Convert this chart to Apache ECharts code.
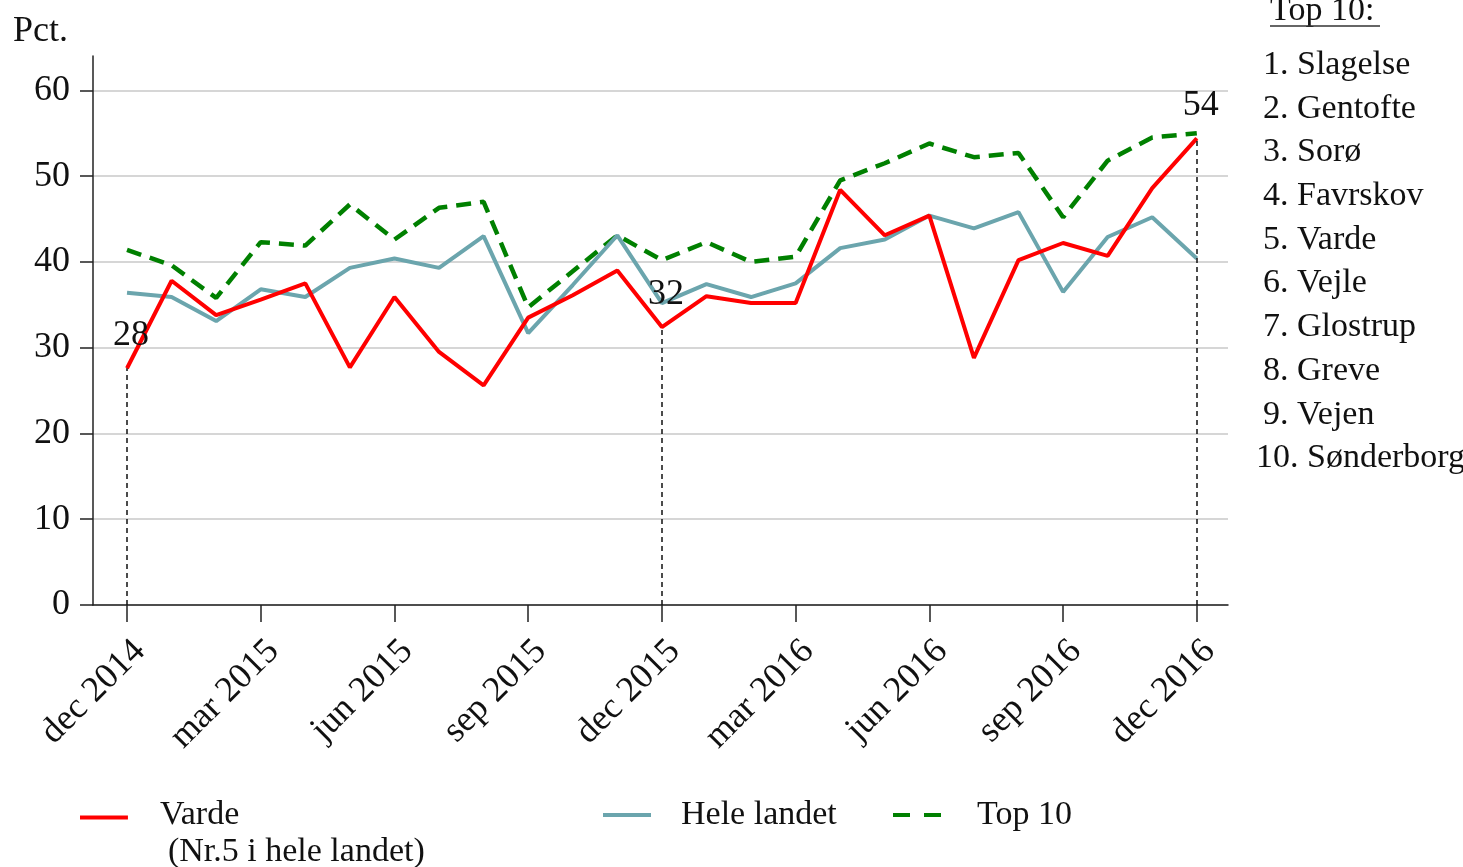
<!DOCTYPE html>
<html>
<head>
<meta charset="utf-8">
<script src="https://cdn.jsdelivr.net/npm/echarts@6/dist/echarts.min.js"></script>
<style>
html,body{margin:0;padding:0;background:#fff;}
#chart{width:1463px;height:867px;}
</style>
</head>
<body>
<div id="chart"></div>
<script>
const months = ['dec 2014','jan 2015','feb 2015','mar 2015','apr 2015','maj 2015','jun 2015','jul 2015','aug 2015','sep 2015','okt 2015','nov 2015','dec 2015','jan 2016','feb 2016','mar 2016','apr 2016','maj 2016','jun 2016','jul 2016','aug 2016','sep 2016','okt 2016','nov 2016','dec 2016'];
const varde = [27.6,37.8,33.8,35.6,37.5,27.7,35.9,29.5,25.6,33.5,36.1,39.0,32.4,36.0,35.2,35.2,48.4,43.1,45.4,28.8,40.2,42.2,40.7,48.6,54.4];
const heleLandet = [36.4,35.9,33.1,36.8,35.9,39.3,40.4,39.3,43.0,31.7,37.3,43.1,35.2,37.4,35.9,37.5,41.6,42.6,45.4,43.9,45.8,36.5,42.9,45.2,40.4];
const top10 = [41.4,39.6,35.8,42.3,41.9,46.7,42.6,46.3,47.0,34.7,38.9,43.1,40.2,42.3,40.0,40.6,49.5,51.5,53.8,52.2,52.7,45.2,51.8,54.5,55.0];
const labelledIdx = [0,12,24];
const xTickIdx = [0,3,6,9,12,15,18,21,24];
const yTicks = [0,10,20,30,40,50,60];
const top10Names = ['Slagelse','Gentofte','Sorø','Favrskov','Varde','Vejle','Glostrup','Greve','Vejen','Sønderborg'];
const seriesNames = ['Varde','Hele landet','Top 10'];

const FONT = 'Liberation Serif';
const FS = 34;
const TXT = '#111';

const chart = echarts.init(document.getElementById('chart'));

const pairs = arr => arr.map((v, i) => [i, v]);

const vardeData = varde.map((v, i) => {
  if (labelledIdx.includes(i)) {
    return {
      value: [i, v],
      symbol: 'circle', symbolSize: 1,
      label: {
        show: true, position: 'top', distance: 14, offset: [4, 0],
        formatter: p => String(Math.round(p.value[1])),
        fontFamily: FONT, fontSize: 36, color: TXT
      }
    };
  }
  return { value: [i, v], symbol: 'none' };
});

const dropLines = labelledIdx.map(i => [{ coord: [i, 0] }, { coord: [i, varde[i]] }]);

const graphics = [];
graphics.push({
  type: 'text', left: 1270, top: -6,
  style: { text: 'Top 10:', font: FS + 'px "' + FONT + '"', fill: TXT }
});
graphics.push({
  type: 'line', shape: { x1: 1270, y1: 26, x2: 1380, y2: 26 },
  style: { stroke: '#333', lineWidth: 1.5 }
});
top10Names.forEach((n, i) => {
  graphics.push({
    type: 'text',
    x: i === 9 ? 1256 : 1263,
    y: 65 + i * 43.7,
    style: { text: (i + 1) + '. ' + n, font: FS + 'px "' + FONT + '"', fill: TXT, verticalAlign: 'middle' }
  });
});

const legendText = { fontFamily: FONT, fontSize: FS, color: TXT };

const option = {
  animation: false,
  backgroundColor: '#fff',
  title: {
    text: 'Pct.', left: 13, top: 14, padding: 0,
    textStyle: { fontFamily: FONT, fontSize: 36, fontWeight: 'normal', color: TXT }
  },
  grid: { left: 93, right: 235, top: 56, bottom: 262, containLabel: false },
  xAxis: {
    type: 'value', min: -0.763, max: 24.7,
    axisLine: { show: true, onZero: true, lineStyle: { color: '#222', width: 1.5 } },
    axisTick: { show: true, length: 17, customValues: xTickIdx, lineStyle: { color: '#222', width: 1.5 } },
    axisLabel: {
      customValues: xTickIdx, rotate: 45, margin: 28, verticalAlign: 'top',
      formatter: v => months[Math.round(v)] || '',
      fontFamily: FONT, fontSize: 36, color: TXT
    },
    splitLine: { show: false }
  },
  yAxis: {
    type: 'value', min: 0, max: 64,
    axisLine: { show: true, onZero: false, lineStyle: { color: '#222', width: 1.5 } },
    axisTick: { show: true, length: 13, customValues: yTicks, lineStyle: { color: '#222', width: 1.5 } },
    axisLabel: { customValues: yTicks, margin: 23, fontFamily: FONT, fontSize: 36, color: TXT },
    splitLine: { show: true, lineStyle: { color: '#c8c8c8', width: 1.5 } }
  },
  legend: [
    {
      data: [seriesNames[0]], left: 80, top: 798, padding: 0, itemGap: 0,
      itemWidth: 48, itemHeight: 36,
      icon: 'path://M0,0 H48 V4 H0 Z M0,36 H0.05 V36.05 H0 Z',
      formatter: () => '{a|Varde}\n{b|(Nr.5 i hele landet)}',
      textStyle: Object.assign({}, legendText, {
        rich: {
          a: { fontFamily: FONT, fontSize: FS, color: TXT, lineHeight: 37, padding: [0, 0, 0, 27] },
          b: { fontFamily: FONT, fontSize: FS, color: TXT, lineHeight: 37, padding: [0, 0, 0, 35] }
        }
      })
    },
    {
      data: [seriesNames[1]], left: 603, top: 798, padding: 0,
      itemWidth: 48, itemHeight: 4, icon: 'rect',
      textStyle: Object.assign({}, legendText, { padding: [0, 0, 0, 25] })
    },
    {
      data: [seriesNames[2]], left: 893, top: 798, padding: 0,
      itemWidth: 48, itemHeight: 4,
      icon: 'path://M0,0 H17 V4 H0 Z M31,0 H48 V4 H31 Z',
      textStyle: Object.assign({}, legendText, { padding: [0, 0, 0, 31] })
    }
  ],
  graphic: graphics,
  series: [
    {
      name: seriesNames[2], type: 'line', data: pairs(top10), symbol: 'none',
      color: '#008000',
      lineStyle: { color: '#008000', width: 4.5, type: [15, 9] },
      z: 2
    },
    {
      name: seriesNames[1], type: 'line', data: pairs(heleLandet), symbol: 'none',
      color: '#6ba5ad',
      lineStyle: { color: '#6ba5ad', width: 4 },
      z: 3
    },
    {
      name: seriesNames[0], type: 'line', data: vardeData, showSymbol: true,
      symbol: 'circle', symbolSize: 1,
      color: '#ff0000',
      lineStyle: { color: '#ff0000', width: 4 },
      z: 4,
      markLine: {
        silent: true, symbol: 'none', label: { show: false },
        lineStyle: { color: '#111', width: 1.5, type: [5, 4] },
        data: dropLines
      }
    }
  ]
};
chart.setOption(option);
</script>
</body>
</html>
